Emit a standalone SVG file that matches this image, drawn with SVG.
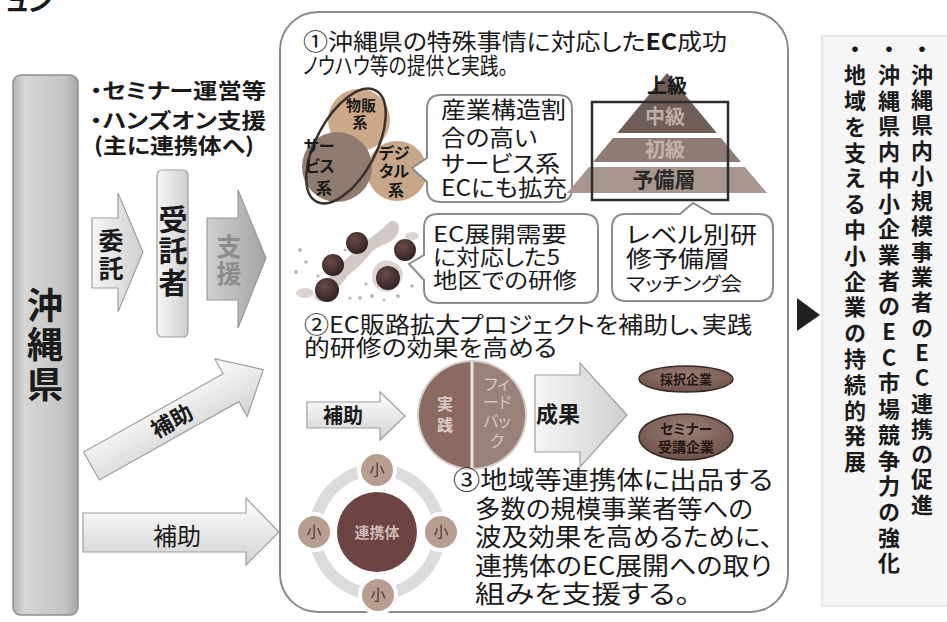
<svg xmlns="http://www.w3.org/2000/svg" width="947" height="622" viewBox="0 0 947 622">
<style>
text{font-family:"Noto Sans CJK JP","Noto Sans",sans-serif;fill:#1a1a1a;font-feature-settings:"palt" 1}
.b{font-weight:bold}
.c{text-anchor:middle}
.box{fill:#fff;stroke:#8c8c8c;stroke-width:2}
.arr{fill:url(#gLight);stroke:#a0a0a0;stroke-width:1.2}
.varr{fill:url(#gLightH);stroke:#a0a0a0;stroke-width:1.2}
.vt{writing-mode:vertical-rl;text-orientation:upright;font-size:22px;font-weight:bold;font-feature-settings:normal}
.small{fill:#b99d91;stroke:#fff;stroke-width:4}
.dot{fill:url(#gDot)}
</style>
<defs>
<linearGradient id="gBar" x1="0" y1="0" x2="1" y2="0">
<stop offset="0" stop-color="#b4b4b4"/><stop offset="0.18" stop-color="#d6d6d6"/><stop offset="0.8" stop-color="#c4c4c4"/><stop offset="1" stop-color="#a6a6a6"/>
</linearGradient>
<linearGradient id="gLight" x1="0" y1="0" x2="0" y2="1">
<stop offset="0" stop-color="#ffffff"/><stop offset="1" stop-color="#d2d2d2"/>
</linearGradient>
<linearGradient id="gLightH" x1="0" y1="0" x2="1" y2="0">
<stop offset="0" stop-color="#f6f6f6"/><stop offset="1" stop-color="#cfcfcf"/>
</linearGradient>
<linearGradient id="gGray" x1="0" y1="0" x2="1" y2="0">
<stop offset="0" stop-color="#cfcfcf"/><stop offset="1" stop-color="#a4a4a4"/>
</linearGradient>
<radialGradient id="gDot" cx="0.4" cy="0.35" r="0.7">
<stop offset="0" stop-color="#6a4a48"/><stop offset="1" stop-color="#2e2020"/>
</radialGradient>
<radialGradient id="gOval" cx="0.5" cy="0.35" r="0.7">
<stop offset="0" stop-color="#9c7f76"/><stop offset="1" stop-color="#6a4e46"/>
</radialGradient>
</defs>

<rect width="947" height="622" fill="#fff"/>
<text x="6" y="11" class="b" font-size="26">ュン</text>

<!-- prefecture column -->
<g id="okinawa">
<rect x="13" y="75" width="65" height="540" rx="8" fill="url(#gBar)" stroke="#8e8e8e" stroke-width="1.5"/>
<text class="b c" font-size="36" x="45" y="319">沖</text>
<text class="b c" font-size="36" x="45" y="358">縄</text>
<text class="b c" font-size="36" x="45" y="398">県</text>
</g>

<g id="notes">
<text class="b" font-size="21" x="90" y="98" textLength="176" lengthAdjust="spacingAndGlyphs">・セミナー運営等</text>
<text class="b" font-size="21" x="90" y="128" textLength="176" lengthAdjust="spacingAndGlyphs">・ハンズオン支援</text>
<text class="b" font-size="21" x="94" y="153" textLength="160" lengthAdjust="spacingAndGlyphs">(主に連携体へ)</text>
</g>

<g id="connectors">
<g id="itaku">
<path class="varr" d="M92,218 H118 V193 L143,252 L118,312 V288 H92 Z"/>
<text class="b c" font-size="25" x="111" y="250">委</text>
<text class="b c" font-size="25" x="111" y="278">託</text>
</g>
<g id="shien">
<path d="M207,218 H238 V190 L266,258 L238,328 V300 H207 Z" fill="url(#gGray)" stroke="#9a9a9a" stroke-width="1.2"/>
<text class="b c" font-size="25" x="229" y="256" style="fill:#8c8c8c">支</text>
<text class="b c" font-size="25" x="229" y="283" style="fill:#8c8c8c">援</text>
</g>
<g id="hojo-diag" transform="translate(91.5,466) rotate(-29.3)">
<path class="arr" d="M0,-16 H160 V-33 L197,0 L160,33 V16 H0 Z"/>
<text class="b c" font-size="22" x="92" y="8">補助</text>
</g>
<g id="hojo-low">
<path class="arr" d="M83,513 H246 V498 L279,532 L246,565 V552 H83 Z"/>
<text class="c" font-size="24" x="177" y="545">補助</text>
</g>
<polygon id="result-arrow" points="797,298 820,315 797,331" fill="#202020"/>
</g>

<g id="jutakusha">
<rect x="157" y="170" width="31" height="167" rx="5" fill="url(#gLightH)" stroke="#a0a0a0" stroke-width="1.2"/>
<text class="b c" font-size="29" x="173" y="231">受</text>
<text class="b c" font-size="29" x="173" y="262">託</text>
<text class="b c" font-size="29" x="173" y="294">者</text>
</g>

<!-- central programme panel -->
<g id="panel">
<rect x="280" y="12" width="508" height="600" rx="38" fill="#fff" stroke="#8a8a8a" stroke-width="2"/>
<text font-size="23" x="303" y="50" textLength="424" lengthAdjust="spacingAndGlyphs">①沖縄県の特殊事情に対応した<tspan class="b">EC</tspan>成功</text>
<text font-size="23" x="303" y="74" textLength="205" lengthAdjust="spacingAndGlyphs">ノウハウ等の提供と実践。</text>
</g>

<g id="venn">
<circle cx="359" cy="120" r="31" fill="#cda98a"/>
<circle cx="397" cy="171" r="30" fill="#c8a68a"/>
<circle cx="337" cy="167" r="35" fill="#8f7b6f"/>
<ellipse cx="346" cy="146" rx="30" ry="63" transform="rotate(28 346 146)" fill="none" stroke="#3a302c" stroke-width="2.5"/>
<text class="b c" font-size="15" x="361" y="111">物販</text>
<text class="b c" font-size="15" x="360" y="128">系</text>
<text class="b c" font-size="16" x="319" y="152">サー</text>
<text class="b c" font-size="16" x="320" y="172">ビス</text>
<text class="b c" font-size="16" x="324" y="194">系</text>
<text class="b c" font-size="16" x="394" y="159">デジ</text>
<text class="b c" font-size="16" x="394" y="177">タル</text>
<text class="b c" font-size="16" x="396" y="196">系</text>
</g>

<g id="callout-service">
<path class="box" d="M441,95 H558 Q572,95 572,109 V188 Q572,202 558,202 H441 Q427,202 427,188 V182 L412,168 L427,158 V109 Q427,95 441,95 Z"/>
<text font-size="23" x="441" y="118" textLength="125" lengthAdjust="spacingAndGlyphs">産業構造割</text>
<text font-size="23" x="441" y="146" textLength="96" lengthAdjust="spacingAndGlyphs">合の高い</text>
<text font-size="23" x="441" y="172" textLength="119" lengthAdjust="spacingAndGlyphs">サービス系</text>
<text font-size="23" x="441" y="196" textLength="126" lengthAdjust="spacingAndGlyphs">ECにも拡充</text>
</g>

<g id="pyramid">
<polygon points="667,73 716.8,133 617.2,133" fill="#6f5e58"/>
<polygon points="613,138 721,138 741,162 593,162" fill="#8d7b74"/>
<polygon points="589,167 745,167 767,193 567,193" fill="#a8978f"/>
<rect x="592" y="102" width="136" height="98" fill="none" stroke="#2e2e2e" stroke-width="2.5"/>
<text class="b c" font-size="20" x="667" y="93">上級</text>
<text class="b c" font-size="20" x="665" y="124" style="fill:#bcaea7">中級</text>
<text class="b c" font-size="20" x="665" y="157" style="fill:#c2b3ac">初級</text>
<text class="b c" font-size="21" x="664" y="187" style="fill:#2a2a2a">予備層</text>
</g>

<g id="map">
<path d="M394,221 C402,223 400,236 391,241 C384,245 376,247 370,254 C364,261 360,266 352,272 C346,277 342,284 336,290 C330,296 326,302 319,301 C312,299 314,291 320,286 C328,280 334,272 340,265 C348,257 356,250 364,243 C372,236 382,230 386,225 C389,222 391,220 394,221 Z" fill="#d3c9c4"/>
<path d="M380,262 C388,258 398,262 402,270 C405,278 398,290 388,292 C380,292 372,286 372,278 C372,270 375,265 380,262 Z" fill="#dcd4d0"/>
<ellipse cx="305" cy="293" rx="9" ry="5" fill="#dcd4d0"/>
<ellipse cx="412" cy="236" rx="7" ry="4" fill="#dcd4d0"/>
<g fill="#bfb4af">
<circle cx="300" cy="250" r="2"/><circle cx="306" cy="262" r="1.8"/><circle cx="296" cy="272" r="2"/>
<circle cx="372" cy="296" r="2"/><circle cx="360" cy="298" r="1.8"/><circle cx="398" cy="296" r="2"/>
<circle cx="412" cy="286" r="1.8"/><circle cx="350" cy="298" r="1.6"/><circle cx="366" cy="284" r="1.6"/>
<circle cx="345" cy="250" r="1.6"/><circle cx="318" cy="276" r="1.6"/><circle cx="384" cy="300" r="1.6"/>
</g>
<circle class="dot" cx="357" cy="243" r="11"/>
<circle class="dot" cx="333" cy="265" r="11"/>
<circle class="dot" cx="405" cy="250" r="11"/>
<circle class="dot" cx="388" cy="278" r="12"/>
<circle class="dot" cx="327" cy="290" r="12"/>
</g>

<g id="callout-regions">
<path class="box" d="M438,214 H584 Q598,214 598,228 V289 Q598,303 584,303 H438 Q424,303 424,289 V280 L409,264 L424,255 V228 Q424,214 438,214 Z"/>
<text font-size="22" x="433" y="242" textLength="134" lengthAdjust="spacingAndGlyphs">EC展開需要</text>
<text font-size="22" x="433" y="265" textLength="127" lengthAdjust="spacingAndGlyphs">に対応した5</text>
<text font-size="22" x="433" y="288" textLength="144" lengthAdjust="spacingAndGlyphs">地区での研修</text>
</g>

<g id="callout-levels">
<path class="box" d="M626,214 H680 L693,203 L712,214 H759 Q773,214 773,228 V287 Q773,301 759,301 H626 Q612,301 612,287 V228 Q612,214 626,214 Z"/>
<text font-size="23" x="626" y="243" textLength="131" lengthAdjust="spacingAndGlyphs">レベル別研</text>
<text font-size="23" x="626" y="267" textLength="104" lengthAdjust="spacingAndGlyphs">修予備層</text>
<text font-size="19" x="626" y="291" textLength="116" lengthAdjust="spacingAndGlyphs">マッチング会</text>
</g>

<g id="project">
<text font-size="23" x="304" y="333" textLength="448" lengthAdjust="spacingAndGlyphs">②EC販路拡大プロジェクトを補助し、実践</text>
<text font-size="23" x="304" y="356" textLength="253" lengthAdjust="spacingAndGlyphs">的研修の効果を高める</text>
</g>

<g id="hojo-project">
<path class="arr" d="M307,402 H380 V392 L405,416 L380,440 V428 H307 Z"/>
<text class="b c" font-size="20" x="343" y="423">補助</text>
</g>

<g id="practice-cycle">
<circle cx="472" cy="415" r="55" fill="#d6cfcc"/>
<path d="M472,362 A53,53 0 0 0 472,468 Z" fill="#8b6a62"/>
<path d="M472,362 A53,53 0 0 1 472,468 Z" fill="#9a827a"/>
<line x1="472" y1="362" x2="472" y2="468" stroke="#e8e4e2" stroke-width="3"/>
<text class="b c" font-size="16" x="445" y="410" style="fill:#d8cdc9">実</text>
<text class="b c" font-size="16" x="445" y="431" style="fill:#d8cdc9">践</text>
<text class="c" font-size="16" x="497" y="390" style="fill:#d4c8c3">フィ</text>
<text class="c" font-size="16" x="497" y="408" style="fill:#d4c8c3">ード</text>
<text class="c" font-size="16" x="497" y="427" style="fill:#d4c8c3">バッ</text>
<text class="c" font-size="16" x="497" y="447" style="fill:#d4c8c3">ク</text>
</g>

<g id="seika">
<path class="varr" d="M535,375 H580 V363 L627,415 L580,467 V452 H535 Z"/>
<text class="b" font-size="22" x="536" y="422">成果</text>
</g>

<g id="saitaku">
<ellipse cx="686" cy="379" rx="47" ry="13" fill="url(#gOval)" stroke="#3a2a26" stroke-width="1.5"/>
<text class="b c" font-size="13" x="686" y="384" style="fill:#241614">採択企業</text>
</g>
<g id="seminar">
<ellipse cx="686" cy="437" rx="47" ry="23" fill="url(#gOval)" stroke="#3a2a26" stroke-width="1.5"/>
<text class="b c" font-size="14" x="686" y="434" style="fill:#241614">セミナー</text>
<text class="b c" font-size="14" x="686" y="452" style="fill:#241614">受講企業</text>
</g>

<g id="renkeitai">
<circle cx="377" cy="532" r="62" fill="none" stroke="#dcdcdc" stroke-width="12"/>
<circle cx="377" cy="532" r="40" fill="#6e4442"/>
<text class="b c" font-size="15" x="377" y="538" style="fill:#cbbab5">連携体</text>
<circle class="small" cx="377" cy="470" r="18"/>
<circle class="small" cx="314" cy="532" r="18"/>
<circle class="small" cx="441" cy="532" r="18"/>
<circle class="small" cx="378" cy="595" r="18"/>
<text class="c" font-size="15" x="377" y="475" style="fill:#4a3a36">小</text>
<text class="c" font-size="15" x="314" y="537" style="fill:#4a3a36">小</text>
<text class="c" font-size="15" x="441" y="537" style="fill:#4a3a36">小</text>
<text class="c" font-size="15" x="378" y="600" style="fill:#4a3a36">小</text>
</g>

<g id="spread">
<text font-size="25" x="453" y="489" textLength="320" lengthAdjust="spacingAndGlyphs">③地域等連携体に出品する</text>
<text font-size="25" x="475" y="518" textLength="278" lengthAdjust="spacingAndGlyphs">多数の規模事業者等への</text>
<text font-size="25" x="475" y="546" textLength="298" lengthAdjust="spacingAndGlyphs">波及効果を高めるために、</text>
<text font-size="25" x="475" y="575" textLength="297" lengthAdjust="spacingAndGlyphs">連携体のEC展開への取り</text>
<text font-size="25" x="475" y="603" textLength="215" lengthAdjust="spacingAndGlyphs">組みを支援する。</text>
</g>

<!-- outcomes -->
<g id="outcomes">
<rect x="822" y="36" width="130" height="570" fill="#f6f6f6" stroke="#e2e2e2" stroke-width="1.5"/>
<text class="vt" x="922" y="38" letter-spacing="3.3">・沖縄県内小規模事業者のEC連携の促進</text>
<text class="vt" x="889" y="38" letter-spacing="3.7">・沖縄県内中小企業者のEC市場競争力の強化</text>
<text class="vt" x="855" y="38" letter-spacing="3.8">・地域を支える中小企業の持続的発展</text>
</g>
</svg>
